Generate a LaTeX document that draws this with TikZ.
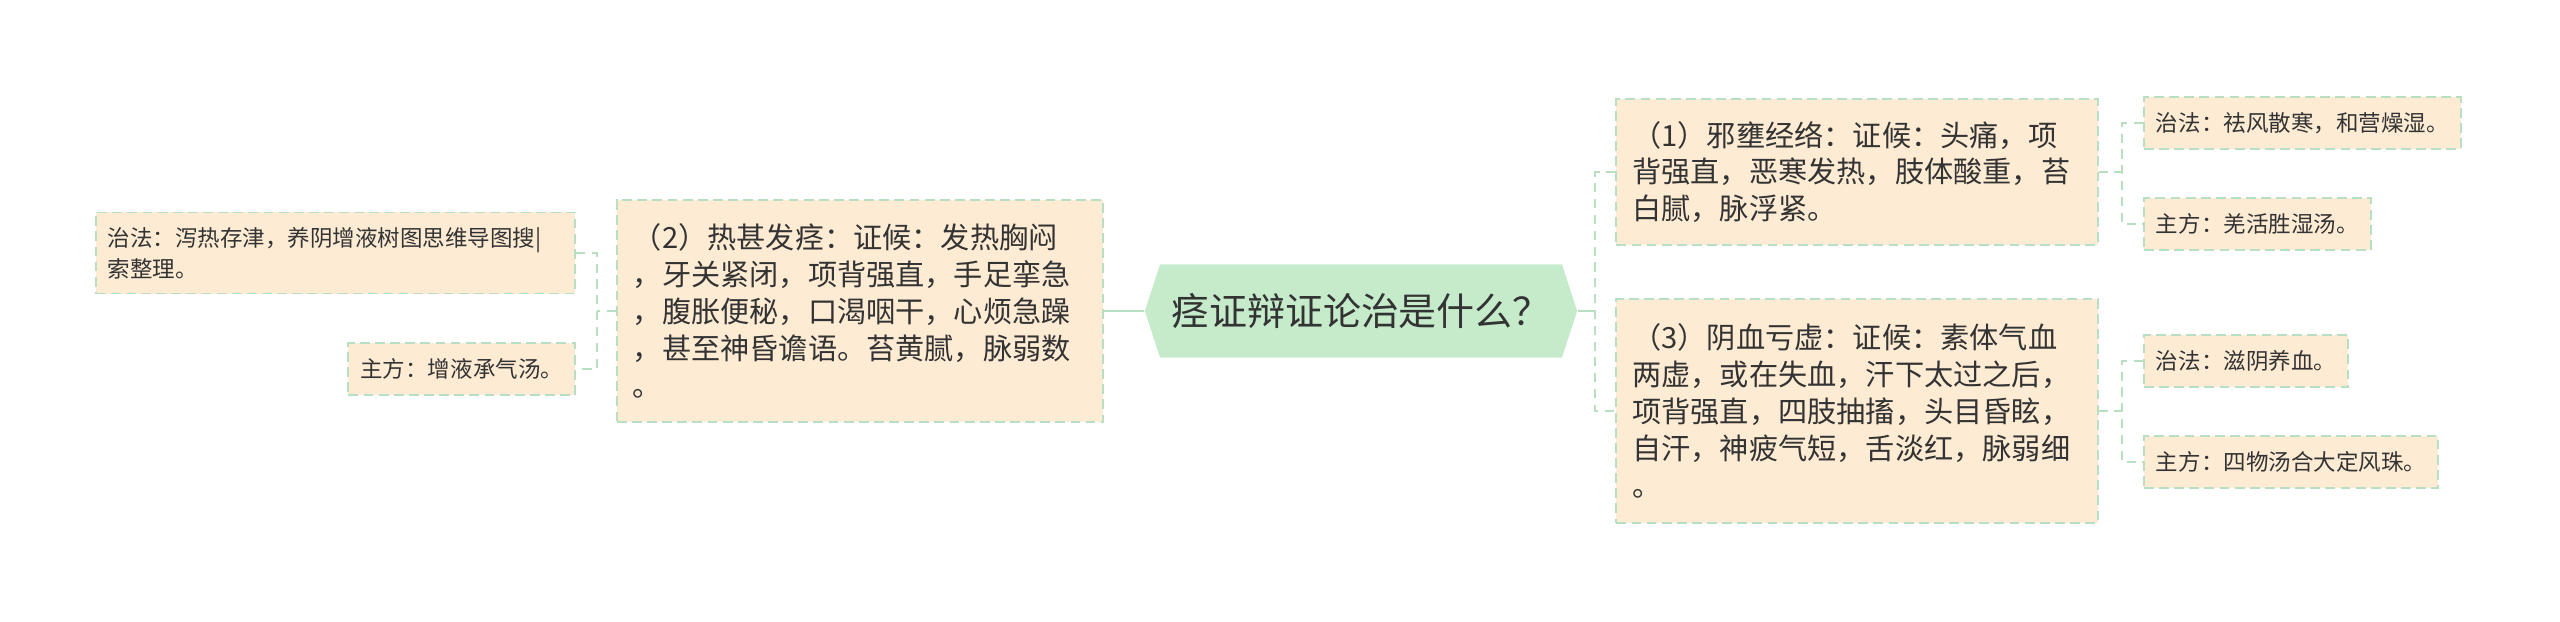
\documentclass[tikz,border=0pt]{standalone}
\usepackage{fontspec}
\newfontfamily\cjk{Noto Sans CJK SC}
\usepackage{tikz}
\usetikzlibrary{shapes.symbols}

\definecolor{peach}{RGB}{253,235,212}
\definecolor{mintline}{RGB}{185,223,195}
\definecolor{mintfill}{RGB}{197,235,203}
\definecolor{inkgray}{RGB}{51,51,51}

\begin{document}
\begin{tikzpicture}[x=0.01cm, y=-0.01cm,
	every node/.style={text=inkgray, inner sep=0pt},
	topic/.style={signal, signal to=west and east, signal pointer angle=144, fill=mintfill, minimum width=4.32cm, minimum height=0.93cm, font=\cjk\fontsize{10.8}{12}\selectfont},
	branch/.style={draw=mintline, line width=0.55pt, dash pattern=on 2.8pt off 1.5pt, fill=peach, align=left, inner xsep=0.16cm, font=\cjk\fontsize{8.3}{10.5}\selectfont},
	leaf/.style={draw=mintline, line width=0.55pt, dash pattern=on 2.8pt off 1.5pt, fill=peach, align=left, inner xsep=0.12cm, minimum height=0.52cm, font=\cjk\fontsize{6.4}{8.8}\selectfont},
	link/.style={draw=mintline, line width=0.6pt, dash pattern=on 2.6pt off 1.9pt},
	stem/.style={draw=mintline, line width=0.6pt}]
	\useasboundingbox (0, 0) rectangle (2560, 621);

	\node[topic] (root) at (1361, 311) {痉证辩证论治是什么？};

	\node[branch, text width=4.54cm, minimum height=2.22cm] (heat) at (860, 311) {（2）热甚发痉：证候：发热胸闷\\，牙关紧闭，项背强直，手足挛急\\，腹胀便秘，口渴咽干，心烦急躁\\，甚至神昏谵语。苔黄腻，脉弱数\\。};
	\node[branch, text width=4.49cm, minimum height=1.45cm] (evil) at (1857, 172) {（1）邪壅经络：证候：头痛，项\\背强直，恶寒发热，肢体酸重，苔\\白腻，脉浮紧。};
	\node[branch, text width=4.49cm, minimum height=2.24cm] (blood) at (1857, 411) {（3）阴血亏虚：证候：素体气血\\两虚，或在失血，汗下太过之后，\\项背强直，四肢抽搐，头目昏眩，\\自汗，神疲气短，舌淡红，脉弱细\\。};

	\node[leaf, anchor=east, text width=4.55cm, minimum height=0.81cm] (heatcure) at (576, 253) {治法：泻热存津，养阴增液树图思维导图搜|\\索整理。};
	\node[leaf, anchor=east] (heatrx) at (576, 369) {主方：增液承气汤。};

	\node[leaf, anchor=west] (evilcure) at (2143, 123) {治法：祛风散寒，和营燥湿。};
	\node[leaf, anchor=west] (evilrx) at (2143, 224) {主方：羌活胜湿汤。};

	\node[leaf, anchor=west] (bloodcure) at (2143, 361) {治法：滋阴养血。};
	\node[leaf, anchor=west] (bloodrx) at (2143, 462) {主方：四物汤合大定风珠。};

	\coordinate (hubL) at (597, 311);
	\coordinate (hubR) at (1595, 311);
	\coordinate (hubE) at (2122, 172);
	\coordinate (hubB) at (2122, 411);

	\draw[stem] (root.west) -- (heat.east);
	\draw[stem] (root.east) -- (hubR);
	\draw[link] (evil.west) -| (hubR) |- (blood.west);

	\draw[link] (heat.west) -- (hubL);
	\draw[link] (heatcure.east) -| (hubL) |- (heatrx.east);

	\draw[link] (evil.east) -- (hubE);
	\draw[link] (evilcure.west) -| (hubE) |- (evilrx.west);

	\draw[link] (blood.east) -- (hubB);
	\draw[link] (bloodcure.west) -| (hubB) |- (bloodrx.west);
\end{tikzpicture}
\end{document}
